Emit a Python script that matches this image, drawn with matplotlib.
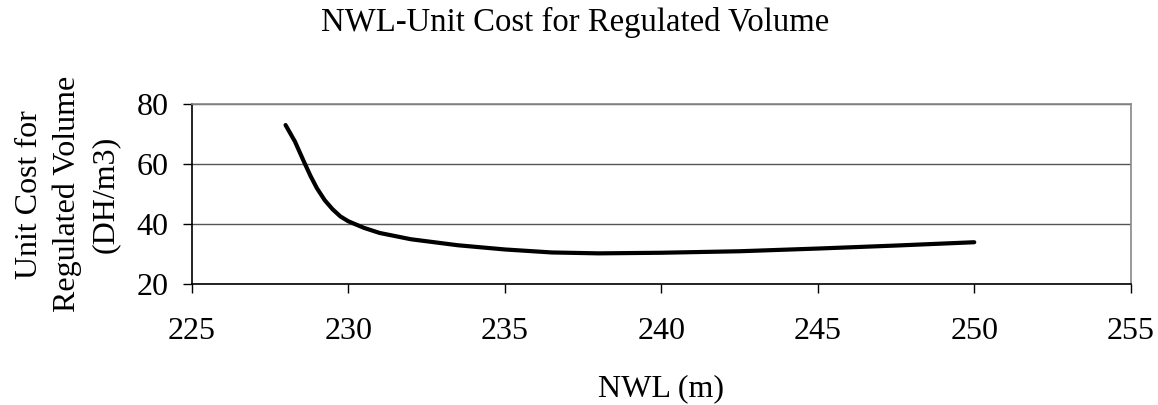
import matplotlib
matplotlib.use("Agg")
import matplotlib.pyplot as plt

nwl = [228.0, 228.3, 228.6, 228.8, 229.0, 229.25, 229.5, 229.75, 230.0, 230.5, 231.0, 232.0,
       233.5, 235.0, 236.5, 238.0, 240.0, 242.5, 245.0, 247.5, 250.0]
cost = [73.0, 67.5, 60.5, 56.0, 52.0, 48.0, 45.0, 42.6, 41.0, 38.8, 37.1, 35.0,
        33.0, 31.6, 30.6, 30.3, 30.5, 31.0, 31.9, 32.9, 34.0]

xticks = [225, 230, 235, 240, 245, 250, 255]
yticks = [20, 40, 60, 80]

plt.rcParams['font.family'] = ['Liberation Serif', 'DejaVu Serif']

fig = plt.figure(figsize=(11.58, 4.05), dpi=100)
ax = fig.add_axes([0.1655, 0.298, 0.8110, 0.4452])

ax.plot(nwl, cost, color='black', linewidth=3.0, solid_capstyle='round', solid_joinstyle='round')

ax.set_xlim(225, 255)
ax.set_ylim(20, 80)
ax.set_xticks(xticks)
ax.set_yticks(yticks)
ax.yaxis.grid(True, color='#555555', linewidth=1.0)
ax.set_axisbelow(True)

for s in ['left', 'bottom']:
    ax.spines[s].set_color('black')
    ax.spines[s].set_linewidth(1.2)
for s in ['top', 'right']:
    ax.spines[s].set_color('#888888')
    ax.spines[s].set_linewidth(1.2)

ax.tick_params(axis='both', direction='out', length=6.5, width=1.0, labelsize=23)
ax.tick_params(axis='x', pad=17)
ax.tick_params(axis='y', pad=10)

ax.set_xlabel('NWL (m)', fontsize=23, labelpad=20)
ax.set_ylabel('Unit Cost for\nRegulated Volume\n(DH/m3)', fontsize=23, labelpad=12, linespacing=1.4)

fig.text(0.497, 1 - 22 / 405, 'NWL-Unit Cost for Regulated Volume', ha='center', va='center', fontsize=23.6)

fig.savefig('out.png', dpi=100)
